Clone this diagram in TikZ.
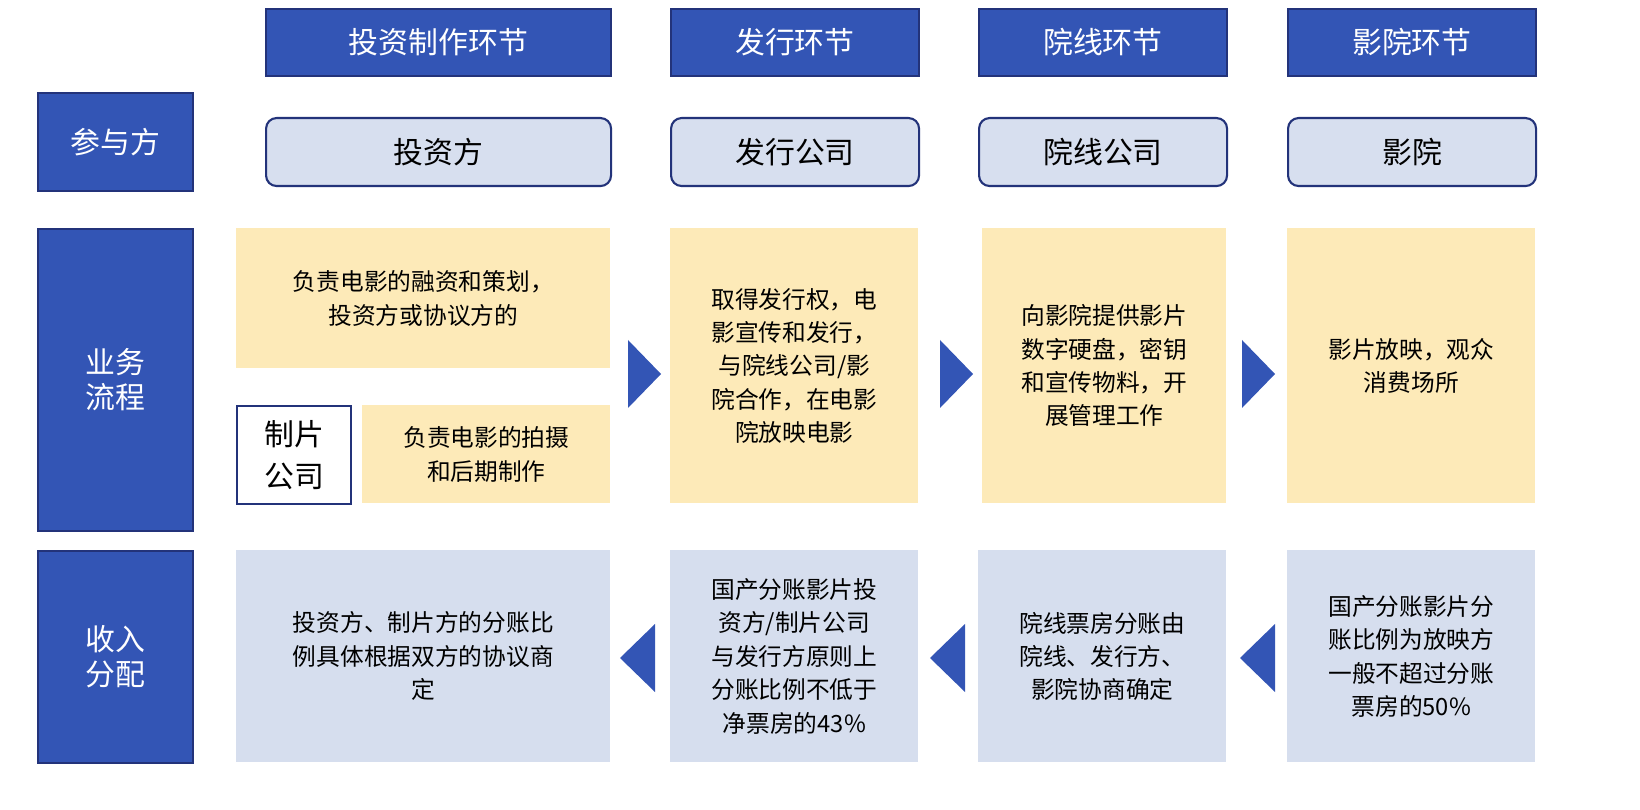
\documentclass[tikz,border=0pt]{standalone}
\usepackage{fontspec}
\setmainfont{Noto Sans CJK SC}
\begin{document}
\begin{tikzpicture}[x=0.02cm,y=-0.02cm,
 hdr/.style={fill=hb,draw=hbd,line width=1pt,text=white,font=\fontsize{17}{20}\selectfont},
 part/.style={fill=lb,draw=hbd,line width=1.2pt,rounded corners=6pt,font=\fontsize{17}{20}\selectfont},
 yel/.style={fill=yl,font=\fontsize{13.5}{19}\selectfont,align=center},
 inc/.style={fill=lb2,font=\fontsize{13.5}{19}\selectfont,align=center},
 tri/.style={fill=hb}]
\definecolor{hb}{HTML}{3355B5}
\definecolor{hbd}{HTML}{23337A}
\definecolor{lb}{HTML}{D7DFEF}
\definecolor{lb2}{HTML}{D6DEEE}
\definecolor{yl}{HTML}{FDEAB8}
% headers
\foreach \a/\b/\t/\n in {265/610/投资制作环节/h1,670/918/发行环节/h2,978/1226/院线环节/h3,1287/1535/影院环节/h4}{
 \node[hdr,minimum width={(\b-\a)*0.02cm},minimum height=1.34cm,anchor=north west] (\n) at (\a,8) {\t};
 }
\node[hdr,minimum width=3.1cm,minimum height=1.96cm,anchor=north west] (l1) at (37,92) {参与方};
\node[hdr,minimum width=3.1cm,minimum height=6.04cm,anchor=north west,align=center] (l2) at (37,228) {业务\\流程};
\node[hdr,minimum width=3.1cm,minimum height=4.24cm,anchor=north west,align=center] (l3) at (37,550) {收入\\分配};
% participants
\foreach \a/\b/\t/\n in {265/610/投资方/p1,670/918/发行公司/p2,978/1226/院线公司/p3,1287/1535/影院/p4}{
 \node[part,minimum width={(\b-\a)*0.02cm},minimum height=1.36cm,anchor=north west] (\n) at (\a,117) {\t};
 }
% business
\node[yel,minimum width=7.48cm,minimum height=2.8cm,anchor=north west] (b1) at (236,228) {负责电影的融资和策划，\\投资方或协议方的};
\node[draw=hbd,line width=1.2pt,fill=white,minimum width=2.28cm,minimum height=1.96cm,anchor=north west,align=center,font=\fontsize{17}{24}\selectfont] (zp) at (236,405) {制片\\公司};
\node[yel,minimum width=4.96cm,minimum height=1.96cm,anchor=north west] (b1b) at (362,405) {负责电影的拍摄\\和后期制作};
\node[yel,minimum width=4.96cm,minimum height=5.5cm,anchor=north west] (b2) at (670,228) {取得发行权，电\\影宣传和发行，\\与院线公司/影\\院合作，在电影\\院放映电影};
\node[yel,minimum width=4.88cm,minimum height=5.5cm,anchor=north west] (b3) at (982,228) {向影院提供影片\\数字硬盘，密钥\\和宣传物料，开\\展管理工作};
\node[yel,minimum width=4.96cm,minimum height=5.5cm,anchor=north west] (b4) at (1287,228) {影片放映，观众\\消费场所};
\foreach \x in {628,940,1242}{\fill[tri] (\x,340) -- (\x+33,374) -- (\x,408) -- cycle;}
% income
\node[inc,minimum width=7.48cm,minimum height=4.24cm,anchor=north west] (i1) at (236,550) {投资方、制片方的分账比\\例具体根据双方的协议商\\定};
\node[inc,minimum width=4.96cm,minimum height=4.24cm,anchor=north west] (i2) at (670,550) {国产分账影片投\\资方/制片公司\\与发行方原则上\\分账比例不低于\\净票房的43\%};
\node[inc,minimum width=4.96cm,minimum height=4.24cm,anchor=north west] (i3) at (978,550) {院线票房分账由\\院线、发行方、\\影院协商确定};
\node[inc,minimum width=4.96cm,minimum height=4.24cm,anchor=north west] (i4) at (1287,550) {国产分账影片分\\账比例为放映方\\一般不超过分账\\票房的50\%};
\foreach \x in {655,965,1275}{\fill[tri] (\x,624) -- (\x-35,658) -- (\x,692) -- cycle;}
\pgfresetboundingbox
\path[use as bounding box] (0,0) rectangle (1640,810);
\end{tikzpicture}
\end{document}
